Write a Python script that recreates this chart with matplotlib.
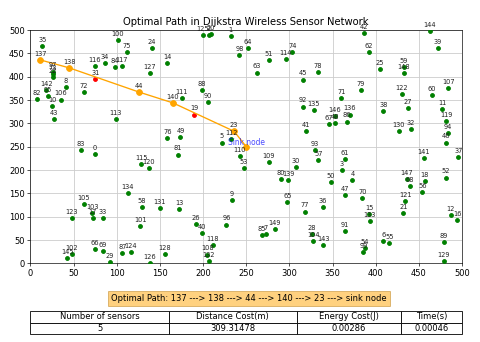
import matplotlib
matplotlib.use("Agg")
import matplotlib.pyplot as plt

node_x = [74.6, 232, 206.5, 360.5, 373, 221.5, 408.9, 272.7, 41, 233,
          25.5, 477, 487, 172, 158.5, 392.6, 494.4, 72, 456.7, 189.6,
          209, 432, 26, 236, 141, 404.7, 192, 437, 325.8, 92,
          307.7, 75, 440.7, 83.5, 85.8, 13.8, 339, 495.7, 409, 472,
          198.5, 318.8, 386.8, 27, 126, 316, 481, 364, 352.7, 173.8,
          348.4, 276.5, 481.6, 247, 387.8, 415.8, 454, 333.6, 129, 432.6,
          464.7, 364, 392, 262, 252, 297.7, 75, 345.8, 440, 84,
          384.5, 360, 61.5, 26, 303.5, 112, 158.5, 318, 333, 382.6,
          290, 170.4, 7, 58.5, 98, 267.7, 367, 106.5, 199, 479,
          206, 364.3, 316, 329.7, 484, 20, 227, 26, 242, 385.8,
          101.5, 127, 48, 71.5, 327.7, 62, 35, 484, 205, 275.8,
          242.3, 175, 232.7, 99, 296, 128.5, 74.6, 106, 211, 481.8,
          137, 434, 430, 48, 116, 199.6, 138, 138, 155.5, 479,
          426.7, 150, 206.5, 393, 112.7, 328.5, 370, 11.5, 45, 298.8,
          165, 455.4, 18.5, 339, 463, 42.7, 352.7, 435.8, 432.6, 283]
node_y = [234, 487, 488.6, 200.7, 179, 259, 48.6, 62, 378, 135,
          338, 331, 104, 117, 429, 106, 92, 97, 176, 319,
          492, 107, 400, 283, 461, 417, 83.6, 332, 63.6, 3,
          206.4, 395, 288, 97, 430, 466, 121, 228.6, 326, 461,
          65, 283, 494, 310, 367, 394, 259, 147, 301, 270.7,
          175, 436, 184, 204, 33, 43.6, 153, 221, 121, 421,
          360, 223, 453.6, 409, 462, 131, 30, 298, 166, 27,
          139, 355, 367, 406, 453, 452, 268, 111, 410, 371,
          180.7, 233, 353, 243, 420, 60.7, 304, 22, 371, 45,
          346, 69, 336, 243, 279, 359, 83, 411, 446, 25,
          478, 80, 19, 108.6, 47, 127, 351, 375, 18.6, 216.4,
          230, 355, 266, 310, 437, 212, 422, 423.6, 39, 305,
          204, 133, 363.6, 97, 25, 488.6, 1.4, 407, 19, 5,
          284, 118, 4.3, 91, 151, 329, 319, 436, 419, 179,
          344, 226, 372, 40, 498.6, 12, 315, 180, 408.6, 74]

sink = (250, 250)
path_nodes = [137, 138, 44, 140, 23]
red_nodes = [31, 19]

table_cols = ["Number of sensors", "Distance Cost(m)", "Energy Cost(J)", "Time(s)"]
table_vals = ["5", "309.31478", "0.00286", "0.00046"]

fig = plt.figure(figsize=(8, 5.7), dpi=60)
ax = fig.add_axes([0.0635, 0.230, 0.899, 0.682])

green_idx = [i for i in range(len(node_x)) if i not in red_nodes and i not in path_nodes]
ax.scatter([node_x[i] for i in green_idx], [node_y[i] for i in green_idx],
           s=22, color='green', zorder=3)
ax.scatter([node_x[i] for i in red_nodes], [node_y[i] for i in red_nodes],
           s=22, color='red', zorder=3)

px = [node_x[i] for i in path_nodes] + [sink[0]]
py = [node_y[i] for i in path_nodes] + [sink[1]]
ax.plot(px, py, 'o-', color='orange', markersize=7, linewidth=1.6, zorder=4)

for i in range(len(node_x)):
    ax.annotate(str(i), (node_x[i], node_y[i]), textcoords='offset points',
                xytext=(0, 5), ha='center', fontsize=8, color='#222222', zorder=5)

ax.text(sink[0], sink[1], 'Sink node', color='blue', alpha=0.7, fontsize=9,
        ha='center', va='bottom', zorder=6)

ax.set_xlim(0, 500)
ax.set_ylim(0, 500)
ax.set_xticks(range(0, 501, 50))
ax.set_yticks(range(0, 501, 50))
ax.tick_params(labelsize=10)
ax.grid(True, color='#cccccc', linewidth=1.0)
ax.set_axisbelow(True)
ax.set_title("Optimal Path in Dijkstra Wireless Sensor Network", fontsize=12)

path_text = "Optimal Path: " + " ---> ".join(str(n) for n in path_nodes) + " ---> sink node"
fig.text(0.519, 0.126, path_text, ha='center', va='center', fontsize=10,
         bbox=dict(boxstyle='square,pad=0.35', facecolor='orange', alpha=0.5, edgecolor='#b07000'))

tbl = ax.table(cellText=[table_vals], colLabels=table_cols, cellLoc='center',
               colWidths=[0.32, 0.297, 0.241, 0.142], bbox=[0, -0.303, 1, 0.0985])
tbl.auto_set_font_size(False)
tbl.set_fontsize(10)

fig.savefig("out.png", dpi=60)
